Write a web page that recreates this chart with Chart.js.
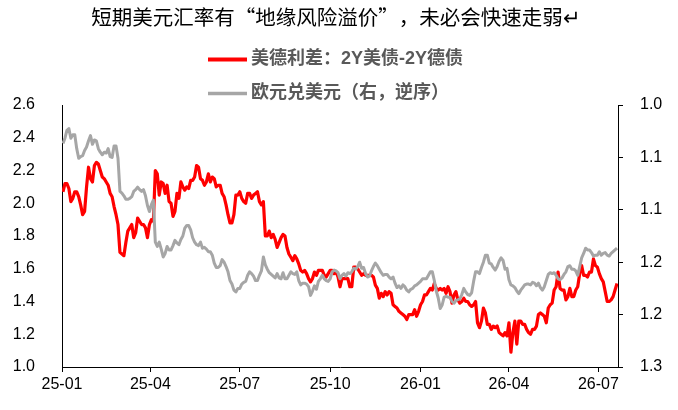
<!DOCTYPE html>
<html>
<head>
<meta charset="utf-8">
<script src="https://cdn.jsdelivr.net/npm/chart.js@4.4.1/dist/chart.umd.min.js"></script>
<style>
  html, body { margin: 0; padding: 0; background: #fff; }
</style>
</head>
<body>
<canvas id="chart" width="678" height="410"></canvas>
<script>
const chartTitle = '短期美元汇率有“地缘风险溢价”，未必会快速走弱↵';
const seriesNames = ['美德利差：2Y美债-2Y德债', '欧元兑美元（右，逆序）'];

// one value every 2 calendar days starting 2025-01-02
const startDate = '2025-01-02';
const stepDays = 2;
const endDate = '2026-07-21';

// 2Y UST - 2Y Bund spread (%), left axis
const spread = [
  2.07, 2.12, 2.12, 2.09, 2.01, 2.03, 2.07, 2.07, 2.04, 1.99,
  1.93, 1.95, 2.10, 2.22, 2.15, 2.13, 2.23, 2.25, 2.24, 2.20,
  2.16, 2.15, 2.13, 2.11, 2.06, 2.04, 1.98, 1.93, 1.87, 1.70,
  1.69, 1.68, 1.76, 1.83, 1.85, 1.87, 1.79, 1.82, 1.91, 1.89,
  1.87, 1.87, 1.85, 1.79, 1.87, 1.90, 1.89, 2.20, 2.18, 2.05,
  2.13, 2.12, 2.06, 2.11, 2.01, 2.00, 1.92, 1.95, 2.06, 2.03,
  2.13, 2.10, 2.08, 2.10, 2.09, 2.14, 2.14, 2.16, 2.23, 2.22,
  2.15, 2.14, 2.11, 2.13, 2.18, 2.13, 2.16, 2.15, 2.10, 2.11,
  2.11, 2.06, 2.04, 1.99, 1.93, 1.88, 1.88, 1.93, 2.05, 2.05,
  2.07, 2.03, 2.01, 2.00, 2.06, 2.06, 2.03, 2.05, 2.06, 2.07,
  2.01, 1.99, 2.01, 1.80, 1.80, 1.83, 1.79, 1.81, 1.78, 1.73,
  1.76, 1.79, 1.81, 1.80, 1.73, 1.69, 1.67, 1.65, 1.68, 1.66,
  1.63, 1.59, 1.58, 1.59, 1.57, 1.54, 1.52, 1.54, 1.58, 1.56,
  1.59, 1.59, 1.59, 1.56, 1.55, 1.57, 1.59, 1.59, 1.57, 1.58,
  1.55, 1.49, 1.54, 1.54, 1.54, 1.54, 1.49, 1.49, 1.61, 1.61,
  1.60, 1.58, 1.56, 1.57, 1.56, 1.56, 1.56, 1.56, 1.55, 1.50,
  1.48, 1.42, 1.45, 1.43, 1.46, 1.44, 1.46, 1.45, 1.38, 1.37,
  1.36, 1.34, 1.33, 1.32, 1.31, 1.29, 1.32, 1.32, 1.32, 1.35,
  1.31, 1.34, 1.38, 1.40, 1.44, 1.44, 1.46, 1.48, 1.47, 1.51,
  1.48, 1.47, 1.48, 1.47, 1.48, 1.45, 1.49, 1.46, 1.39, 1.44,
  1.46, 1.41, 1.39, 1.40, 1.42, 1.40, 1.40, 1.38, 1.37, 1.38,
  1.40, 1.27, 1.24, 1.28, 1.36, 1.33, 1.26, 1.26, 1.23, 1.25,
  1.24, 1.25, 1.21, 1.20, 1.19, 1.21, 1.19, 1.27, 1.09, 1.21,
  1.28, 1.14, 1.28, 1.28, 1.26, 1.26, 1.23, 1.21, 1.20, 1.23,
  1.23, 1.25, 1.32, 1.33, 1.32, 1.31, 1.27, 1.36, 1.38, 1.39,
  1.47, 1.49, 1.58, 1.48, 1.47, 1.47, 1.41, 1.43, 1.48, 1.43,
  1.43, 1.47, 1.49, 1.57, 1.62, 1.56, 1.56, 1.55, 1.58, 1.58,
  1.66, 1.62, 1.61, 1.57, 1.54, 1.52, 1.46, 1.40, 1.40, 1.41,
  1.43, 1.47, 1.51
];

// EUR/USD, right axis (reversed)
const eurusd = [
  1.044, 1.038, 1.029, 1.027, 1.038, 1.034, 1.034, 1.050, 1.061, 1.059,
  1.058, 1.052, 1.048, 1.041, 1.035, 1.045, 1.040, 1.041, 1.050, 1.054,
  1.057, 1.054, 1.055, 1.050, 1.059, 1.060, 1.047, 1.047, 1.061, 1.099,
  1.101, 1.104, 1.108, 1.108, 1.107, 1.105, 1.099, 1.097, 1.094, 1.097,
  1.099, 1.097, 1.104, 1.115, 1.122, 1.114, 1.109, 1.157, 1.162, 1.157,
  1.165, 1.174, 1.170, 1.162, 1.166, 1.166, 1.161, 1.155, 1.158, 1.160,
  1.154, 1.150, 1.141, 1.138, 1.138, 1.143, 1.152, 1.157, 1.160, 1.161,
  1.157, 1.164, 1.163, 1.165, 1.168, 1.168, 1.172, 1.181, 1.186, 1.186,
  1.184, 1.177, 1.180, 1.185, 1.191, 1.201, 1.205, 1.212, 1.214, 1.210,
  1.210, 1.205, 1.203, 1.202, 1.195, 1.191, 1.193, 1.196, 1.201, 1.201,
  1.195, 1.190, 1.174, 1.183, 1.188, 1.192, 1.194, 1.196, 1.198, 1.193,
  1.198, 1.199, 1.192, 1.199, 1.199, 1.195, 1.191, 1.193, 1.194, 1.191,
  1.201, 1.206, 1.204, 1.204, 1.205, 1.208, 1.218, 1.213, 1.207, 1.211,
  1.202, 1.199, 1.195, 1.199, 1.201, 1.202, 1.199, 1.191, 1.189, 1.190,
  1.192, 1.199, 1.195, 1.193, 1.196, 1.192, 1.193, 1.191, 1.187, 1.188,
  1.185, 1.180, 1.187, 1.186, 1.193, 1.197, 1.196, 1.190, 1.185, 1.181,
  1.184, 1.188, 1.192, 1.195, 1.194, 1.194, 1.197, 1.199, 1.197, 1.204,
  1.209, 1.207, 1.210, 1.206, 1.208, 1.212, 1.214, 1.211, 1.210, 1.207,
  1.206, 1.204, 1.202, 1.199, 1.199, 1.199, 1.195, 1.191, 1.191, 1.201,
  1.213, 1.221, 1.233, 1.229, 1.220, 1.219, 1.220, 1.220, 1.225, 1.227,
  1.224, 1.223, 1.222, 1.217, 1.210, 1.214, 1.217, 1.218, 1.215, 1.202,
  1.191, 1.191, 1.193, 1.186, 1.180, 1.172, 1.172, 1.181, 1.182, 1.186,
  1.189, 1.185, 1.179, 1.175, 1.178, 1.188, 1.187, 1.200, 1.206, 1.207,
  1.209, 1.213, 1.216, 1.212, 1.209, 1.206, 1.205, 1.205, 1.206, 1.203,
  1.204, 1.207, 1.204, 1.209, 1.212, 1.208, 1.201, 1.194, 1.192, 1.193,
  1.192, 1.195, 1.199, 1.200, 1.198, 1.194, 1.191, 1.185, 1.184, 1.188,
  1.188, 1.190, 1.195, 1.185, 1.175, 1.170, 1.164, 1.166, 1.166, 1.169,
  1.173, 1.172, 1.172, 1.168, 1.172, 1.170, 1.169, 1.172, 1.173, 1.170,
  1.168, 1.166, 1.164
];

const tickDates = ['2025-01-01', '2025-04-01', '2025-07-01', '2025-10-01', '2026-01-01', '2026-04-01', '2026-07-01'];
const tickLabels = ['25-01', '25-04', '25-07', '25-10', '26-01', '26-04', '26-07'];
const rightTicks = [1.0, 1.06, 1.12, 1.18, 1.24, 1.3];
const rightTickLabels = ['1.0', '1.1', '1.1', '1.2', '1.2', '1.3'];

const baseDate = '2025-01-01';
function dayOf(d) {
  return (Date.parse(d) - Date.parse(baseDate)) / 86400000;
}
const firstDay = dayOf(startDate);
const toPoints = arr => arr.map((v, i) => ({ x: firstDay + i * stepDays, y: v }));

const RED = '#ff0000';
const GREY = '#a6a6a6';
const tickFont = { family: '"Liberation Sans", Arial, sans-serif', size: 16 };

// title + vertical legend drawn above the plot
const header = {
  id: 'header',
  afterDraw(chart) {
    const ctx = chart.ctx;
    ctx.save();
    ctx.textBaseline = 'middle';
    ctx.textAlign = 'center';
    ctx.fillStyle = '#000';
    ctx.font = '20.5px "Noto Sans CJK SC", sans-serif';
    ctx.fillText(chartTitle, 336, 17);

    const rows = [[RED, 4, 59.5], [GREY, 3.5, 93.5]];
    ctx.textAlign = 'left';
    ctx.fillStyle = '#595959';
    ctx.font = 'bold 18px "Liberation Sans", "Noto Sans CJK SC", sans-serif';
    rows.forEach(([col, w, y], i) => {
      ctx.strokeStyle = col;
      ctx.lineWidth = w;
      ctx.beginPath();
      ctx.moveTo(208, y);
      ctx.lineTo(247, y);
      ctx.stroke();
      ctx.fillText(seriesNames[i], 251, y);
    });
    ctx.restore();
  }
};

new Chart(document.getElementById('chart'), {
  type: 'line',
  data: {
    datasets: [{
      label: seriesNames[0],
      data: toPoints(spread),
      borderColor: RED,
      borderWidth: 3.2,
      yAxisID: 'y',
      order: 2
    }, {
      label: seriesNames[1],
      data: toPoints(eurusd),
      borderColor: GREY,
      borderWidth: 3,
      yAxisID: 'y1',
      order: 1
    }]
  },
  options: {
    responsive: false,
    animation: false,
    devicePixelRatio: 1,
    layout: { padding: { top: 105, left: 0, right: 0, bottom: 0 } },
    elements: { point: { radius: 0 }, line: { tension: 0, borderJoinStyle: 'round' } },
    plugins: { legend: { display: false }, title: { display: false }, tooltip: { enabled: false } },
    scales: {
      x: {
        type: 'linear',
        min: dayOf(baseDate),
        max: dayOf(endDate),
        afterBuildTicks: s => { s.ticks = tickDates.map(d => ({ value: dayOf(d) })); },
        afterFit: s => { s.height = 43; },
        ticks: {
          autoSkip: false, maxRotation: 0, padding: 3,
          color: '#000', font: tickFont,
          callback: (v, i) => tickLabels[i]
        },
        grid: { display: true, drawOnChartArea: false, drawTicks: true, tickLength: 5, color: '#000' },
        border: { display: true, color: '#000', width: 1 }
      },
      y: {
        position: 'left',
        min: 1.0, max: 2.6,
        afterFit: s => { s.width = 62; },
        ticks: { stepSize: 0.2, padding: 19, color: '#000', font: tickFont, callback: v => v.toFixed(1) },
        grid: { display: false },
        border: { display: true, color: '#000', width: 1 }
      },
      y1: {
        position: 'right',
        reverse: true,
        min: 1.0, max: 1.3,
        afterBuildTicks: s => { s.ticks = rightTicks.map(v => ({ value: v })); },
        afterFit: s => { s.width = 60; },
        ticks: {
          padding: 17, color: '#000', font: tickFont,
          callback: v => {
            const k = rightTicks.findIndex(t => Math.abs(t - v) < 1e-6);
            return k >= 0 ? rightTickLabels[k] : '';
          }
        },
        grid: { display: true, drawOnChartArea: false, drawTicks: true, tickLength: 5, color: '#000' },
        border: { display: true, color: '#000', width: 1 }
      }
    }
  },
  plugins: [header]
});
</script>
</body>
</html>
